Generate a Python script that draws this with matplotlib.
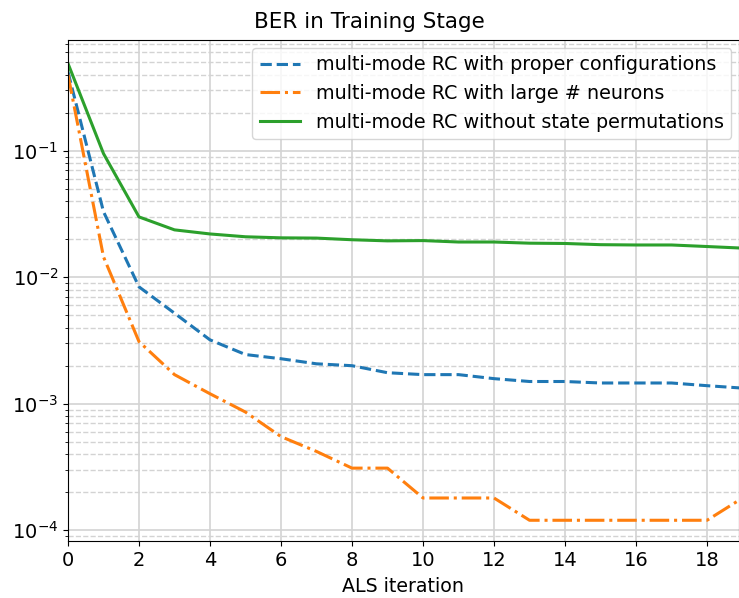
import numpy as np
import matplotlib
matplotlib.use("Agg")
import matplotlib.pyplot as plt

# Data
iters = np.arange(20)

ber_proper = [0.42, 0.033, 0.0084, 0.0052, 0.0032, 0.00245, 0.00227, 0.00207,
              0.0020, 0.00176, 0.0017, 0.0017, 0.00158, 0.0015, 0.0015,
              0.00146, 0.00146, 0.00146, 0.00139, 0.00133]
ber_large = [0.40, 0.0145, 0.0031, 0.0017, 0.0012, 0.00086, 0.00055, 0.00042,
             0.00031, 0.00031, 0.00018, 0.00018, 0.00018, 0.00012, 0.00012,
             0.00012, 0.00012, 0.00012, 0.00012, 0.00018]
ber_noperm = [0.49, 0.095, 0.030, 0.0237, 0.022, 0.0209, 0.0205, 0.0204,
              0.0198, 0.0194, 0.0195, 0.019, 0.019, 0.0186, 0.0185, 0.0181,
              0.018, 0.018, 0.0175, 0.0170]

labels = ['multi-mode RC with proper configurations',
          'multi-mode RC with large # neurons',
          'multi-mode RC without state permutations']

fig = plt.figure(figsize=(7.39, 5.98), dpi=100)
ax = fig.add_axes([0.092, 0.095, 0.908, 0.838])

ax.plot(iters, ber_proper, '--', color='#1f77b4', lw=2.2, label=labels[0])
ax.plot(iters, ber_large, '-.', color='#ff7f0e', lw=2.2, label=labels[1])
ax.plot(iters, ber_noperm, '-', color='#2ca02c', lw=2.2, label=labels[2])

ax.set_yscale('log')
ax.set_xlim(0, 18.9)
ax.set_ylim(8.2e-5, 0.75)
ax.set_xticks(np.arange(0, 19, 2))

ax.grid(True, which='major', color='lightgray', lw=1.2, ls='-')
ax.grid(True, which='minor', axis='y', color='lightgray', lw=1.0, ls='--')
ax.set_axisbelow(True)

ax.tick_params(labelsize=14)
ax.set_title('BER in Training Stage', fontsize=15.5, x=0.449, pad=9)
ax.set_xlabel('ALS iteration', fontsize=13.7, labelpad=5)
ax.legend(loc='upper right', fontsize=13.8, handlelength=2.1,
          borderaxespad=0.4)

fig.savefig('out.png', dpi=100)
